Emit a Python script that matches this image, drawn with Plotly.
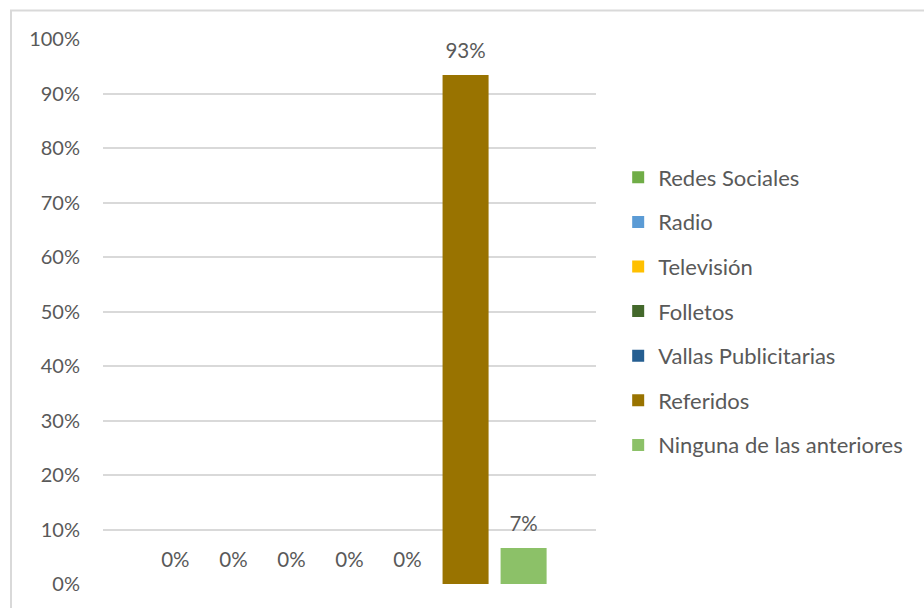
import plotly.graph_objects as go

categories = ["Medios"]
series_names = ["Redes Sociales", "Radio", "Televisión", "Folletos",
                "Vallas Publicitarias", "Referidos", "Ninguna de las anteriores"]
series_values = [0.0, 0.0, 0.0, 0.0, 0.0, 0.934, 0.066]
series_colors = ["#70AD47", "#5B9BD5", "#FFC000", "#43682B",
                 "#255E91", "#997300", "#8CC168"]
y_tickvals = [0, 0.1, 0.2, 0.3, 0.4, 0.5, 0.6, 0.7, 0.8, 0.9, 1.0]
y_ticktext = ["0%", "10%", "20%", "30%", "40%", "50%", "60%", "70%", "80%", "90%", "100%"]

FONT = "Lato"
TXT = "#595959"
GRID = "#D9D9D9"
BARGAP = 0.176

fig = go.Figure()
for i, (n, v, c) in enumerate(zip(series_names, series_values, series_colors)):
    fig.add_bar(x=categories, y=[v], name=n, marker_color=c, marker_line_width=0,
                offsetgroup=str(i), legendgroup=str(i), hoverinfo="name+y")
for i, (n, v) in enumerate(zip(series_names, series_values)):
    fig.add_scatter(x=categories, y=[v], mode="markers+text", text=[f"{round(v*100):.0f}%"],
                    textposition="top center", textfont=dict(family=FONT, size=20.5, color=TXT),
                    marker=dict(size=17, opacity=0), offsetgroup=str(i), legendgroup=str(i),
                    showlegend=False, hoverinfo="skip", cliponaxis=False)

fig.update_layout(
    width=924, height=608,
    margin=dict(l=103, r=328, t=39, b=24),
    paper_bgcolor="white", plot_bgcolor="white",
    barmode="group", bargap=BARGAP, bargroupgap=0.207,
    scattermode="group", scattergap=BARGAP,
    font=dict(family=FONT, size=20, color=TXT),
    showlegend=True,
    legend=dict(x=1.045, xanchor="left", y=0.5, yanchor="middle",
                font=dict(family=FONT, size=22, color=TXT),
                tracegroupgap=13, bgcolor="rgba(0,0,0,0)"),
    xaxis=dict(range=[-0.5, 0.5], showticklabels=False, showgrid=False,
               zeroline=False, showline=False, ticks=""),
    yaxis=dict(range=[0, 1], tickvals=y_tickvals, ticktext=y_ticktext,
               showgrid=True, gridcolor=GRID, gridwidth=1.5, zeroline=False,
               showline=False, ticks="", ticklabelstandoff=22,
               tickfont=dict(family=FONT, size=20, color=TXT)),
    shapes=[dict(type="rect", xref="paper", yref="paper",
                 x0=-0.1866, x1=1.68, y0=-0.06, y1=1.0523,
                 line=dict(color=GRID, width=2), fillcolor="rgba(0,0,0,0)", layer="below")],
)

fig.write_html("out.html")
